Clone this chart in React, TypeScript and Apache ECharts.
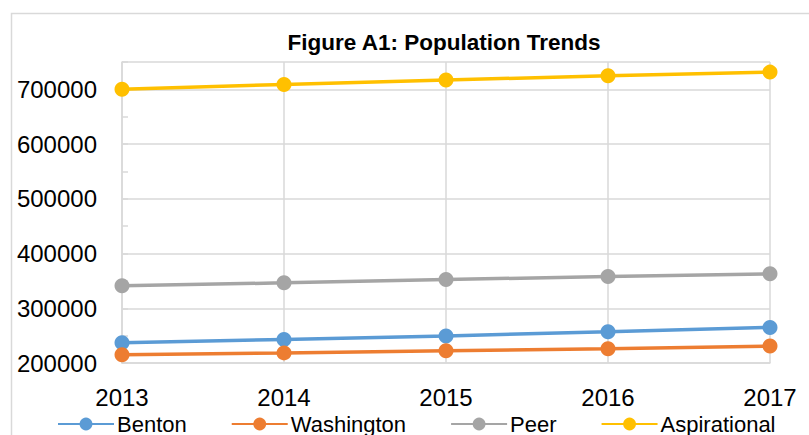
import React, { useEffect, useRef } from "react";
import * as echarts from "echarts";

const years = ["2013", "2014", "2015", "2016", "2017"];
const benton = [237000, 243000, 249500, 257000, 265000];
const washington = [215000, 218500, 222500, 226000, 231000];
const peer = [341000, 346500, 352500, 358000, 363000];
const aspirational = [700000, 709000, 717000, 725000, 731500];

const seriesDefs = [
  { name: "Benton", data: benton, color: "#5B9BD5" },
  { name: "Washington", data: washington, color: "#ED7D31" },
  { name: "Peer", data: peer, color: "#A5A5A5" },
  { name: "Aspirational", data: aspirational, color: "#FFC000" },
];

const FONT = "Liberation Sans";

export default function App() {
  const ref = useRef<HTMLDivElement>(null);
  useEffect(() => {
    if (!ref.current) return;
    const chart = echarts.init(ref.current, undefined, { renderer: "svg" });
    chart.setOption({
      animation: false,
      backgroundColor: "#ffffff",
      title: {
        text: "Figure A1: Population Trends",
        left: 439,
        textAlign: "center",
        top: 26,
        textStyle: { fontFamily: FONT, fontSize: 22.5, fontWeight: "bold", color: "#000" },
      },
      graphic: [
        {
          type: "rect",
          shape: { x: 11.5, y: 13.5, width: 820, height: 440 },
          style: { fill: "none", stroke: "#d9d9d9", lineWidth: 1.5 },
          silent: true,
        },
      ],
      legend: {
        bottom: -5,
        left: 52,
        itemWidth: 56,
        itemHeight: 16,
        itemGap: 44,
        textStyle: { fontFamily: FONT, fontSize: 22, color: "#000", padding: [0, 0, 0, -2] },
        data: seriesDefs.map((s) => s.name),
      },
      grid: { left: 122, right: 39, top: 62, bottom: 72, containLabel: false },
      xAxis: {
        type: "category",
        data: years,
        boundaryGap: false,
        axisLine: { lineStyle: { color: "#d9d9d9", width: 1.5 } },
        axisTick: { show: false },
        splitLine: { show: true, lineStyle: { color: "#d9d9d9", width: 1.5 } },
        axisLabel: { fontFamily: FONT, fontSize: 24, color: "#000", margin: 22 },
      },
      yAxis: [
        {
          type: "value",
          min: 200000,
          max: 750000,
          interval: 100000,
          axisLine: { show: true, lineStyle: { color: "#d9d9d9", width: 1.5 } },
          axisTick: { show: false },
          splitLine: { show: true, lineStyle: { color: "#d9d9d9", width: 1.5 } },
          axisLabel: {
            fontFamily: FONT,
            fontSize: 24,
            color: "#000",
            margin: 25,
            showMaxLabel: false,
            formatter: (v: number) => String(v),
          },
        },
        {
          type: "value",
          position: "left",
          min: 200000,
          max: 750000,
          interval: 50000,
          axisLine: { show: false },
          axisTick: { show: true, inside: true, length: 6, lineStyle: { color: "#d9d9d9", width: 1.5 } },
          splitLine: { show: false },
          axisLabel: { show: false },
        },
      ],
      series: seriesDefs.map((s) => ({
        name: s.name,
        type: "line",
        data: s.data,
        yAxisIndex: 0,
        symbol: "circle",
        symbolSize: 15,
        itemStyle: { color: s.color },
        lineStyle: { color: s.color, width: 3.5 },
      })),
    });
    return () => chart.dispose();
  }, []);
  return (
    <div
      ref={ref}
      style={{ position: "fixed", left: 0, top: 0, width: 809, height: 435 }}
    />
  );
}
